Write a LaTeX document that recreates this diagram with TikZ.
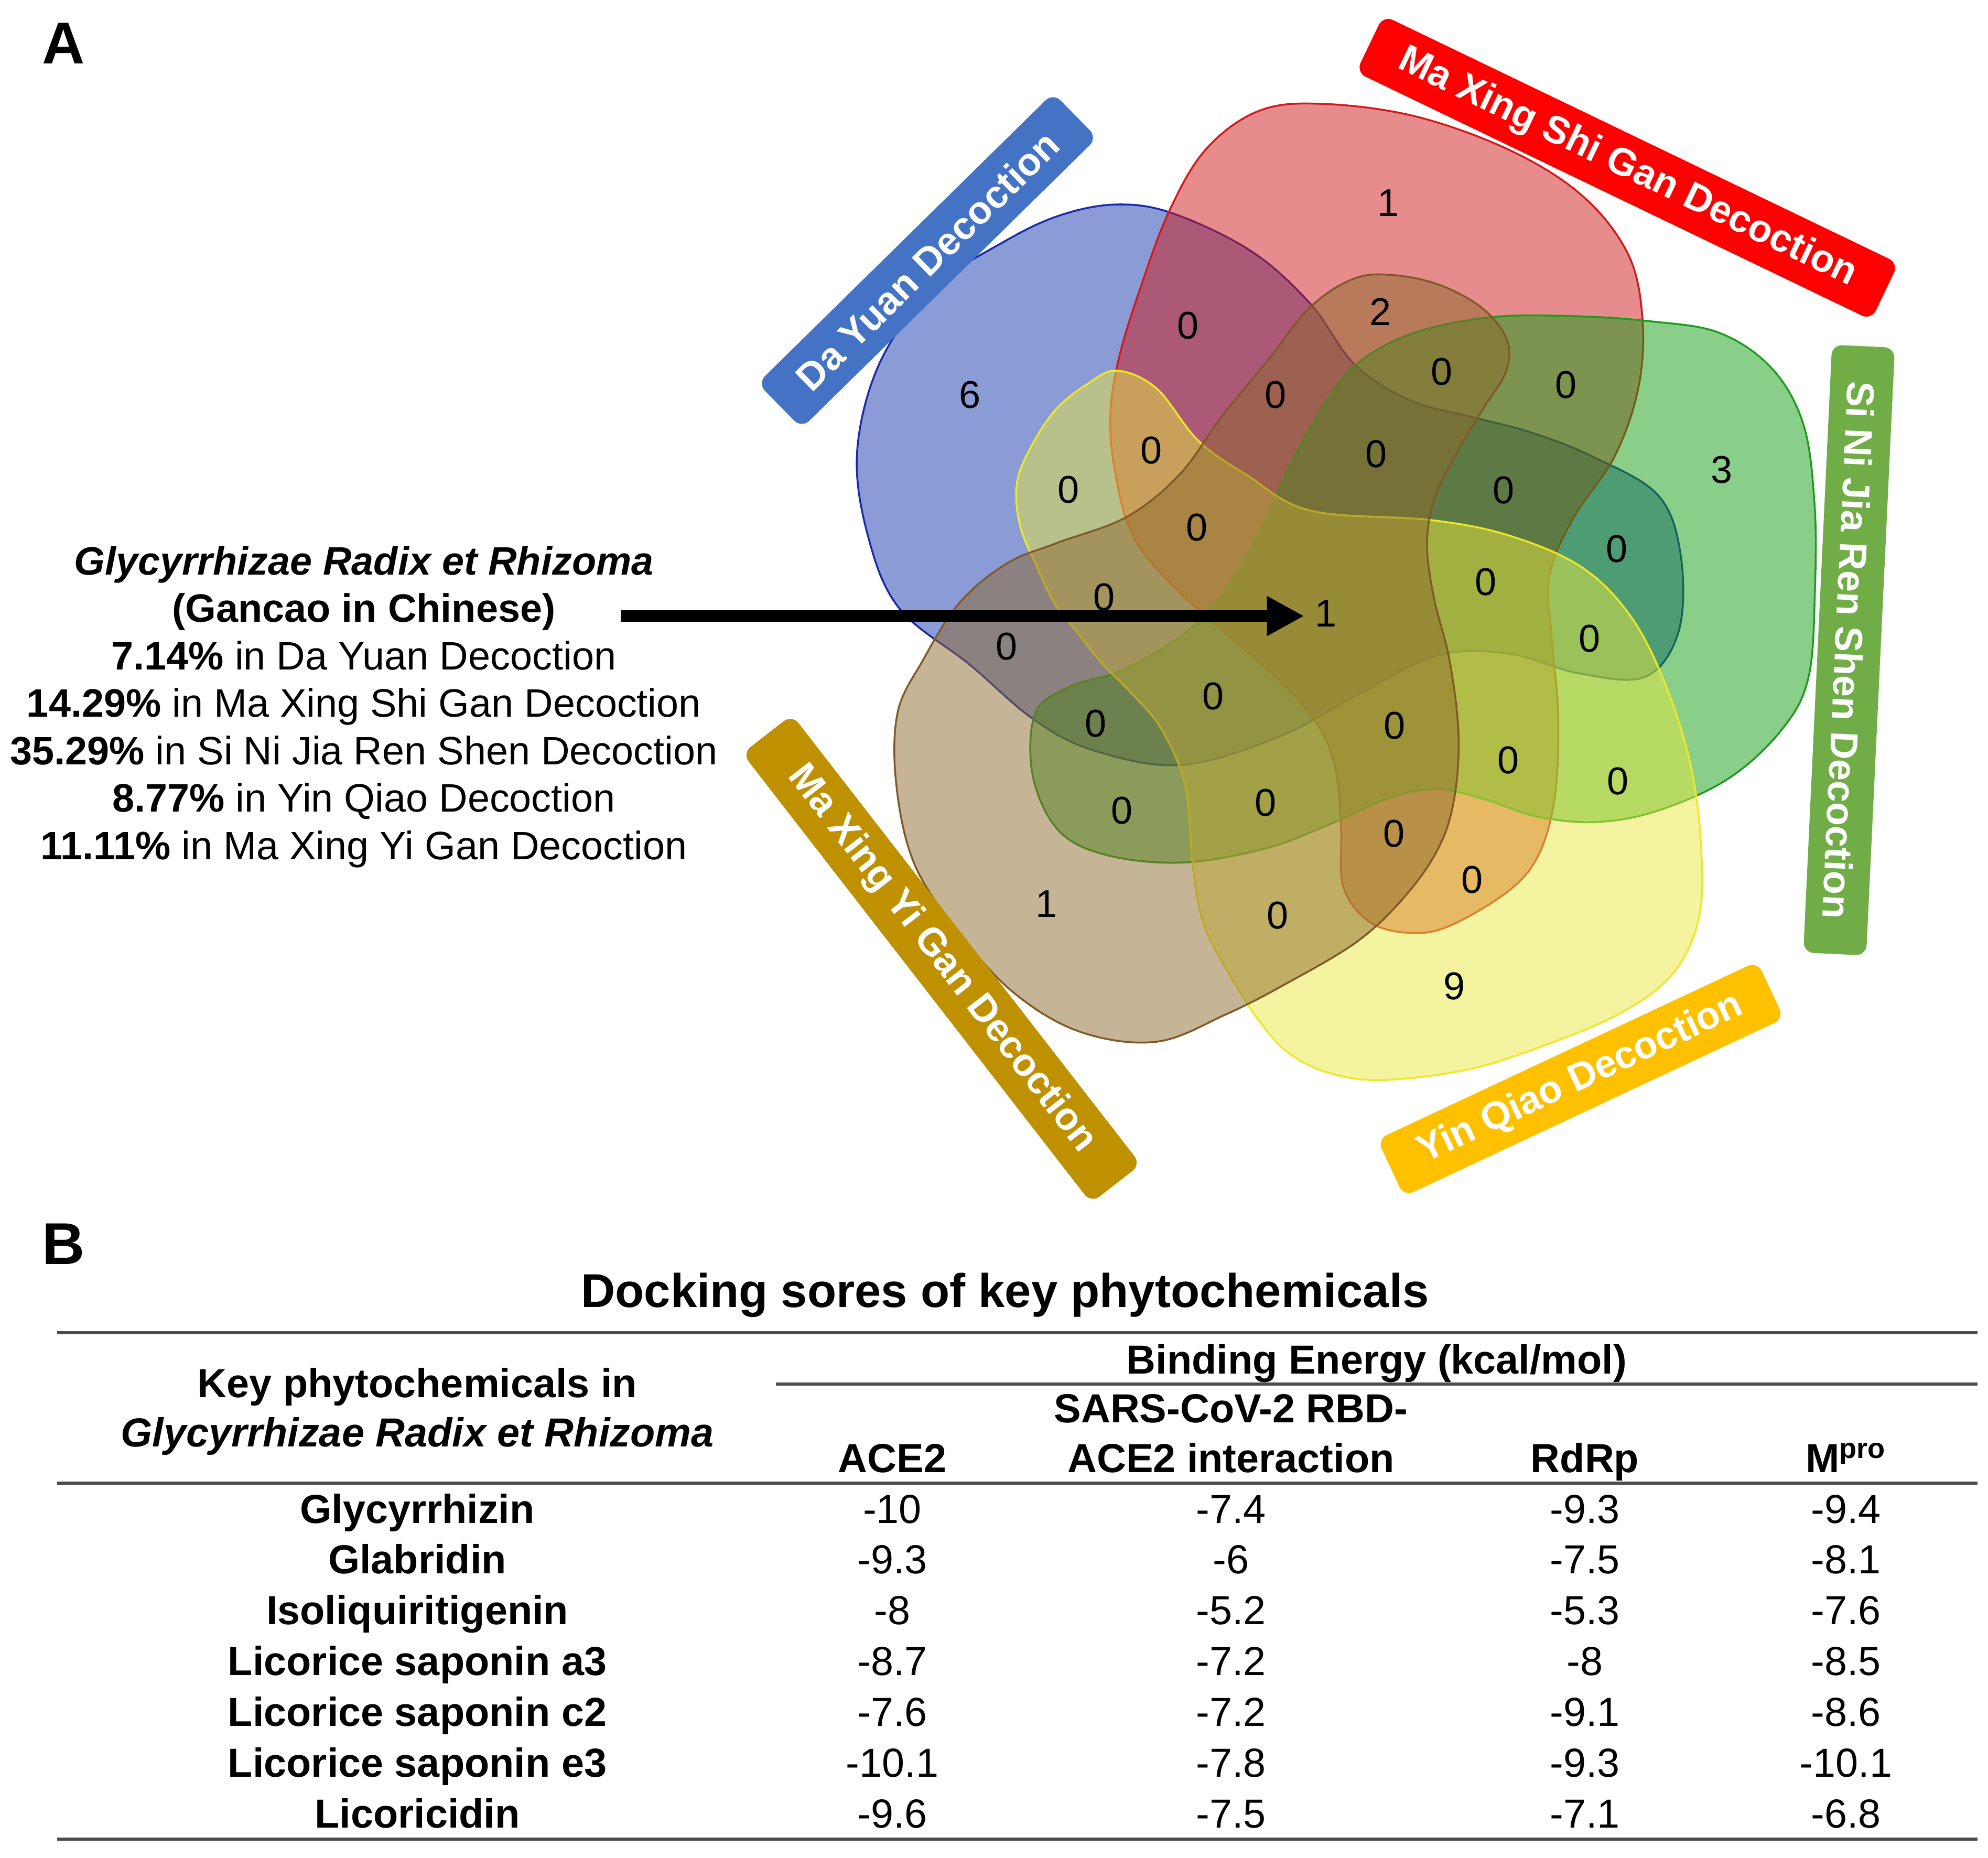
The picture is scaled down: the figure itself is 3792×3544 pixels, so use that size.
\documentclass[tikz,border=0pt]{standalone}
\usepackage{fontspec}
\setmainfont{Liberation Sans}
\usetikzlibrary{arrows.meta}
\definecolor{dyFill}{RGB}{23,55,173}
\definecolor{mxsgFill}{RGB}{205,25,25}
\definecolor{snFill}{RGB}{19,157,19}
\definecolor{yqFill}{RGB}{231,231,65}
\definecolor{mxygFill}{RGB}{141,105,45}
\definecolor{dyLine}{RGB}{25,40,165}
\definecolor{mxsgLine}{RGB}{210,25,25}
\definecolor{snLine}{RGB}{30,155,30}
\definecolor{yqLine}{RGB}{238,232,40}
\definecolor{mxygLine}{RGB}{128,88,40}
\definecolor{dyBox}{HTML}{4472C4}
\definecolor{mxsgBox}{HTML}{FF0000}
\definecolor{snBox}{HTML}{70AD47}
\definecolor{yqBox}{HTML}{FFC000}
\definecolor{mxygBox}{HTML}{BF9000}
\newcommand{\vennSize}[0]{\fontsize{21}{25}\selectfont}
\newcommand{\tabSize}[0]{\fontsize{22}{26}\selectfont}

\begin{document}
\begin{tikzpicture}[x=0.01cm, y=-0.01cm]
  \tikzset{
    setshape/.style={fill=#1, fill opacity=0.5, line width=1pt},
    vnum/.style={font=\vennSize, inner sep=0pt, anchor=base},
    setlabel/.style={fill=#1, text=white, font=\fontsize{21}{25}\selectfont\bfseries,
      rounded corners=0.2cm, minimum height=1.2cm, inner sep=0pt},
    panel/.style={font=\fontsize{32}{38}\selectfont\bfseries, anchor=base, inner sep=0pt},
    lefttext/.style={font=\fontsize{21.5}{26}\selectfont, anchor=base, inner sep=0pt},
    pointer/.style={line width=6.3pt, -{Triangle[length=0.71cm, width=0.71cm]}, shorten >=0.2cm},
    cell/.style={font=\tabSize, anchor=base, inner sep=0pt},
    hd/.style={cell, font=\tabSize\bfseries},
    rule/.style={line width=1.5pt, black!70}
  }
  \useasboundingbox (0,0) rectangle (3792,3544);

  \node[panel] (panelA) at (121,121) {A};

  \filldraw[setshape=dyFill, draw=dyLine] plot[smooth cycle, tension=0.6] coordinates {
    (2133,390) (2240,408) (2388,480) (2500,580) (2584,695) (2691,764) (2806,795)
    (2921,825) (3040,872) (3163,945) (3206,1060) (3202,1204) (3138,1291) (3010,1284)
    (2880,1247) (2742,1250) (2597,1321) (2440,1405) (2253,1459) (2085,1431) (1970,1371)
    (1850,1268) (1715,1160) (1655,1020) (1635,860) (1679,690) (1780,550) (1915,461) (2024,410)};
  \filldraw[setshape=mxsgFill, draw=mxsgLine] plot[smooth cycle, tension=0.6] coordinates {
    (2230,403) (2300,285) (2400,212) (2520,198) (2700,222) (2883,288) (3020,375)
    (3106,486) (3133,610) (3125,740) (3080,870) (3000,990) (2955,1100) (2960,1220)
    (2972,1360) (2966,1518) (2934,1632) (2874,1702) (2760,1768) (2683,1779) (2610,1757)
    (2562,1690) (2558,1580) (2548,1470) (2515,1385) (2444,1302) (2340,1210) (2234,1114)
    (2160,1020) (2127,900) (2118,790) (2135,680) (2175,550)};
  \filldraw[setshape=snFill, draw=snLine] plot[smooth cycle, tension=0.6] coordinates {
    (2538,753) (2600,685) (2700,634) (2844,605) (3000,603) (3150,613) (3280,635)
    (3380,703) (3440,810) (3461,960) (3462,1120) (3450,1290) (3400,1390) (3297,1485)
    (3160,1547) (3042,1568) (2930,1557) (2830,1524) (2740,1505) (2650,1522) (2530,1575)
    (2415,1618) (2260,1645) (2115,1632) (2020,1585) (1970,1480) (1975,1360) (2040,1310)
    (2138,1279) (2250,1215) (2330,1137) (2400,1020) (2470,870)};
  \filldraw[setshape=yqFill, draw=yqLine] plot[smooth cycle, tension=0.6] coordinates {
    (2130,707) (2206,741) (2286,841) (2378,906) (2500,974) (2730,992) (2880,1022)
    (3017,1082) (3110,1175) (3176,1304) (3225,1460) (3245,1620) (3240,1753) (3190,1858)
    (3090,1933) (2946,1994) (2800,2040) (2640,2060) (2540,2048) (2460,2010) (2400,1945)
    (2340,1850) (2295,1760) (2275,1650) (2261,1500) (2215,1390) (2157,1321) (2100,1263)
    (2050,1200) (2011,1150) (1975,1075) (1945,1000) (1940,920) (1969,848) (2015,780) (2072,734)};
  \filldraw[setshape=mxygFill, draw=mxygLine] plot[smooth cycle, tension=0.6] coordinates {
    (2500,585) (2584,531) (2661,525) (2750,545) (2830,590) (2875,650) (2872,710)
    (2830,778) (2775,870) (2735,955) (2722,1040) (2735,1140) (2765,1260) (2782,1400)
    (2774,1522) (2745,1615) (2683,1706) (2590,1795) (2450,1878) (2338,1935) (2206,1987)
    (2060,1968) (1933,1893) (1830,1780) (1745,1650) (1710,1500) (1712,1360) (1760,1260)
    (1830,1150) (1920,1075) (2015,1036) (2149,986) (2250,905) (2330,795) (2420,685)};

  \foreach \px/\py/\n [count=\k] in {1850/778/6, 2648/412/1, 2266/646/0, 2633/620/2,
      2433/778/0, 2750/734/0, 2987/759/0, 3284/921/3, 2196/884/0, 2038/959/0,
      2625/891/0, 2868/960/0, 2283/1031/0, 3084/1072/0, 2106/1164/0, 2834/1135/0,
      1920/1258/0, 3032/1243/0, 2314/1353/0, 2090/1405/0, 2660/1409/0, 2877/1475/0,
      3086/1515/0, 2140/1571/0, 2414/1556/0, 2659/1615/0, 2808/1703/0, 1996/1749/1,
      2437/1771/0, 2774/1906/9}
    \node[vnum] (v\k) at (\px,\py) {\n};
  \node[vnum] (core) at (2529,1195) {1};

  \node[setlabel=dyBox, rotate=44.5, minimum width=7.9cm] (lblDY) at (1769,497) {Da Yuan Decoction};
  \node[setlabel=mxsgBox, rotate=-25.7, minimum width=10.9cm] (lblMXSG) at (3104,320) {Ma Xing Shi Gan Decoction};
  \node[setlabel=snBox, rotate=-92.7, minimum width=11.6cm] (lblSN) at (3527,1240) {Si Ni Jia Ren Shen Decoction};
  \node[setlabel=yqBox, rotate=25.1, minimum width=8cm] (lblYQ) at (3015,2058) {Yin Qiao Decoction};
  \node[setlabel=mxygBox, rotate=-52.2, minimum width=10.85cm] (lblMXYG) at (1796,1829) {Ma Xing Yi Gan Decoction};

  \node[lefttext] (herb) at (694,1096) {\bfseries\itshape Glycyrrhizae Radix et Rhizoma};
  \node[lefttext] (gancao) at (694,1186) {\bfseries (Gancao in Chinese)};
  \node[lefttext] (pctDY) at (694,1277) {\textbf{7.14\%} in Da Yuan Decoction};
  \node[lefttext] (pctMXSG) at (694,1367) {\textbf{14.29\%} in Ma Xing Shi Gan Decoction};
  \node[lefttext] (pctSN) at (694,1458) {\textbf{35.29\%} in Si Ni Jia Ren Shen Decoction};
  \node[lefttext] (pctYQ) at (694,1548) {\textbf{8.77\%} in Yin Qiao Decoction};
  \node[lefttext] (pctMXYG) at (694,1639) {\textbf{11.11\%} in Ma Xing Yi Gan Decoction};
  \coordinate (arrowstart) at (1184,1175);
  \draw[pointer] (arrowstart) -- (arrowstart -| core.west);

  \node[panel] (panelB) at (121,2411) {B};
  \node[hd, font=\fontsize{25.7}{30}\selectfont\bfseries] (tabtitle) at (1917,2493) {Docking sores of key phytochemicals};
  \draw[rule] (109,2542) -- (3772,2542);
  \node[hd] (hdEnergy) at (2626,2620) {Binding Energy (kcal/mol)};
  \draw[rule] (1480,2640) -- (3772,2640);
  \node[hd] (hdKey1) at (796,2665) {Key phytochemicals in};
  \node[hd] (hdKey2) at (796,2759) {\itshape Glycyrrhizae Radix et Rhizoma};
  \node[hd] (hdRBD1) at (2348,2713) {SARS-CoV-2 RBD-};
  \node[hd] (hdRBD2) at (2348,2808) {ACE2 interaction};
  \node[hd] (hdACE) at (1702,2808) {ACE2};
  \node[hd] (hdRdRp) at (3023,2808) {RdRp};
  \node[hd] (hdMpro) at (3521,2808) {M\textsuperscript{pro}};
  \draw[rule] (109,2829) -- (3772,2829);
  \foreach \chem/\ace/\rbd/\rdrp/\mpro [count=\rowi] in {
      Glycyrrhizin/-10/-7.4/-9.3/-9.4,
      Glabridin/-9.3/-6/-7.5/-8.1,
      Isoliquiritigenin/-8/-5.2/-5.3/-7.6,
      Licorice saponin a3/-8.7/-7.2/-8/-8.5,
      Licorice saponin c2/-7.6/-7.2/-9.1/-8.6,
      Licorice saponin e3/-10.1/-7.8/-9.3/-10.1,
      Licoricidin/-9.6/-7.5/-7.1/-6.8}{
    \pgfmathsetmacro{\rowy}{2905+96.9*(\rowi-1)}
    \node[hd] (chem\rowi) at (796,\rowy) {\chem};
    \node[cell] (ace\rowi) at (1702,\rowy) {\ace};
    \node[cell] (rbd\rowi) at (2348,\rowy) {\rbd};
    \node[cell] (rdrp\rowi) at (3023,\rowy) {\rdrp};
    \node[cell] (mpro\rowi) at (3521,\rowy) {\mpro};
  }
  \draw[rule] (109,3508) -- (3772,3508);
\end{tikzpicture}
\end{document}
